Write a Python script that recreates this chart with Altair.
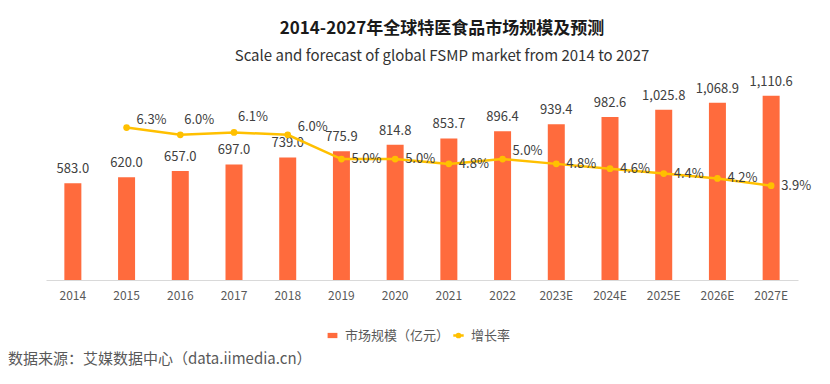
import altair as alt
import pandas as pd

years = ["2014", "2015", "2016", "2017", "2018", "2019", "2020", "2021", "2022",
         "2023E", "2024E", "2025E", "2026E", "2027E"]
market = [583.0, 620.0, 657.0, 697.0, 739.0, 775.9, 814.8, 853.7, 896.4,
          939.4, 982.6, 1025.8, 1068.9, 1110.6]
growth = [None, 6.3, 6.0, 6.1, 6.0, 5.0, 5.0, 4.8, 5.0, 4.8, 4.6, 4.4, 4.2, 3.9]

bar_name = "市场规模（亿元）"
line_name = "增长率"
title_text = "2014-2027年全球特医食品市场规模及预测"
subtitle_text = "Scale and forecast of global FSMP market from 2014 to 2027"
source_text = "数据来源：艾媒数据中心（data.iimedia.cn）"

# label placement groups (styling only)
high_labels = ["2016", "2017"]
mid_labels = ["2015", "2018", "2022"]
low_labels = [y for y in years if y not in high_labels + mid_labels]

FONT = "Noto Sans CJK SC"
BAR_COLOR = "#FF6B3D"
LINE_COLOR = "#FFC000"

df = pd.DataFrame({"year": years, "market": market, "growth": growth})

base = alt.Chart(df).encode(
    x=alt.X("year:N", sort=years, title=None,
            scale=alt.Scale(paddingInner=0.5, paddingOuter=0.25),
            axis=alt.Axis(labelAngle=0, ticks=False, domainColor="#D9D9D9",
                          labelColor="#595959", labelFontSize=12, labelFont=FONT,
                          labelPadding=10, grid=False))
)

y_bar = alt.Y("market:Q", scale=alt.Scale(domain=[0, 1266]), axis=None)
y_line = alt.Y("growth:Q", scale=alt.Scale(domain=[0, 8.68]), axis=None)

bars = base.transform_calculate(series=f"'{bar_name}'").mark_bar(size=17).encode(
    y=y_bar,
    color=alt.Color("series:N",
                    scale=alt.Scale(domain=[bar_name], range=[BAR_COLOR]),
                    legend=alt.Legend(title=None, orient="none", legendX=280, legendY=259,
                                      symbolType="M-1.4,-0.75H1.4V0.75H-1.4Z",
                                      symbolSize=49, symbolStrokeWidth=0,
                                      labelFont=FONT, labelFontSize=13,
                                      labelColor="#595959", labelOffset=6)),
)
bar_text = base.mark_text(dy=-7, baseline="bottom", fontSize=13, color="#404040",
                          font=FONT).encode(
    y=y_bar, text=alt.Text("market:Q", format=",.1f"))

rates = base.transform_filter("isValid(datum.growth)")
line = rates.transform_calculate(series2=f"'{line_name}'").mark_line(
    strokeWidth=2.5).encode(
    y=y_line,
    stroke=alt.Stroke("series2:N",
                      scale=alt.Scale(domain=[line_name], range=[LINE_COLOR]),
                      legend=alt.Legend(title=None, orient="none", legendX=406, legendY=259,
                                        symbolType="M-1.3,0H1.3M0.4,0A0.4,0.4,0,1,1,-0.4,0A0.4,0.4,0,1,1,0.4,0",
                                        symbolSize=64, symbolStrokeWidth=2.5,
                                        symbolFillColor=LINE_COLOR,
                                        labelFont=FONT, labelFontSize=13,
                                        labelColor="#595959", labelOffset=6)),
)
points = rates.mark_point(filled=True, size=45, color=LINE_COLOR, opacity=1).encode(y=y_line)

rate_label = alt.Text("label:N")
rates_lab = rates.transform_calculate(label="format(datum.growth, '.1f') + '%'")
t_low = rates_lab.transform_filter(alt.FieldOneOfPredicate(field="year", oneOf=low_labels)).mark_text(
    align="left", baseline="middle", dx=10, fontSize=13, color="#404040", font=FONT
).encode(y=y_line, text=rate_label)
t_mid = rates_lab.transform_filter(alt.FieldOneOfPredicate(field="year", oneOf=mid_labels)).mark_text(
    align="left", baseline="middle", dx=10, dy=-8, fontSize=13, color="#404040", font=FONT
).encode(y=y_line, text=rate_label)
t_high = rates_lab.transform_filter(alt.FieldOneOfPredicate(field="year", oneOf=high_labels)).mark_text(
    align="left", baseline="middle", dx=4, dy=-15, fontSize=13, color="#404040", font=FONT
).encode(y=y_line, text=rate_label)

source = alt.Chart(pd.DataFrame({"t": [source_text]})).mark_text(
    align="left", baseline="middle", fontSize=15, color="#595959", font=FONT
).encode(x=alt.value(-38), y=alt.value(289), text="t:N")

chart = alt.layer(
    alt.layer(bars, bar_text),
    alt.layer(line, points, t_low, t_mid, t_high),
    source,
).resolve_scale(y="independent").properties(
    width=752, height=210,
    autosize=alt.AutoSizeParams(type="none"),
    padding={"left": 38, "top": 62, "right": 24, "bottom": 90},
    title=alt.Title(title_text, subtitle=subtitle_text, font=FONT, fontSize=17,
                    fontWeight="bold", color="#1a1a1a", subtitleFont=FONT,
                    subtitleFontSize=15, subtitleColor="#333333", anchor="middle",
                    dx=20, offset=5, subtitlePadding=11),
).configure_view(stroke=None)

chart.save("out.html", embed_options={"renderer": "svg", "actions": False})
